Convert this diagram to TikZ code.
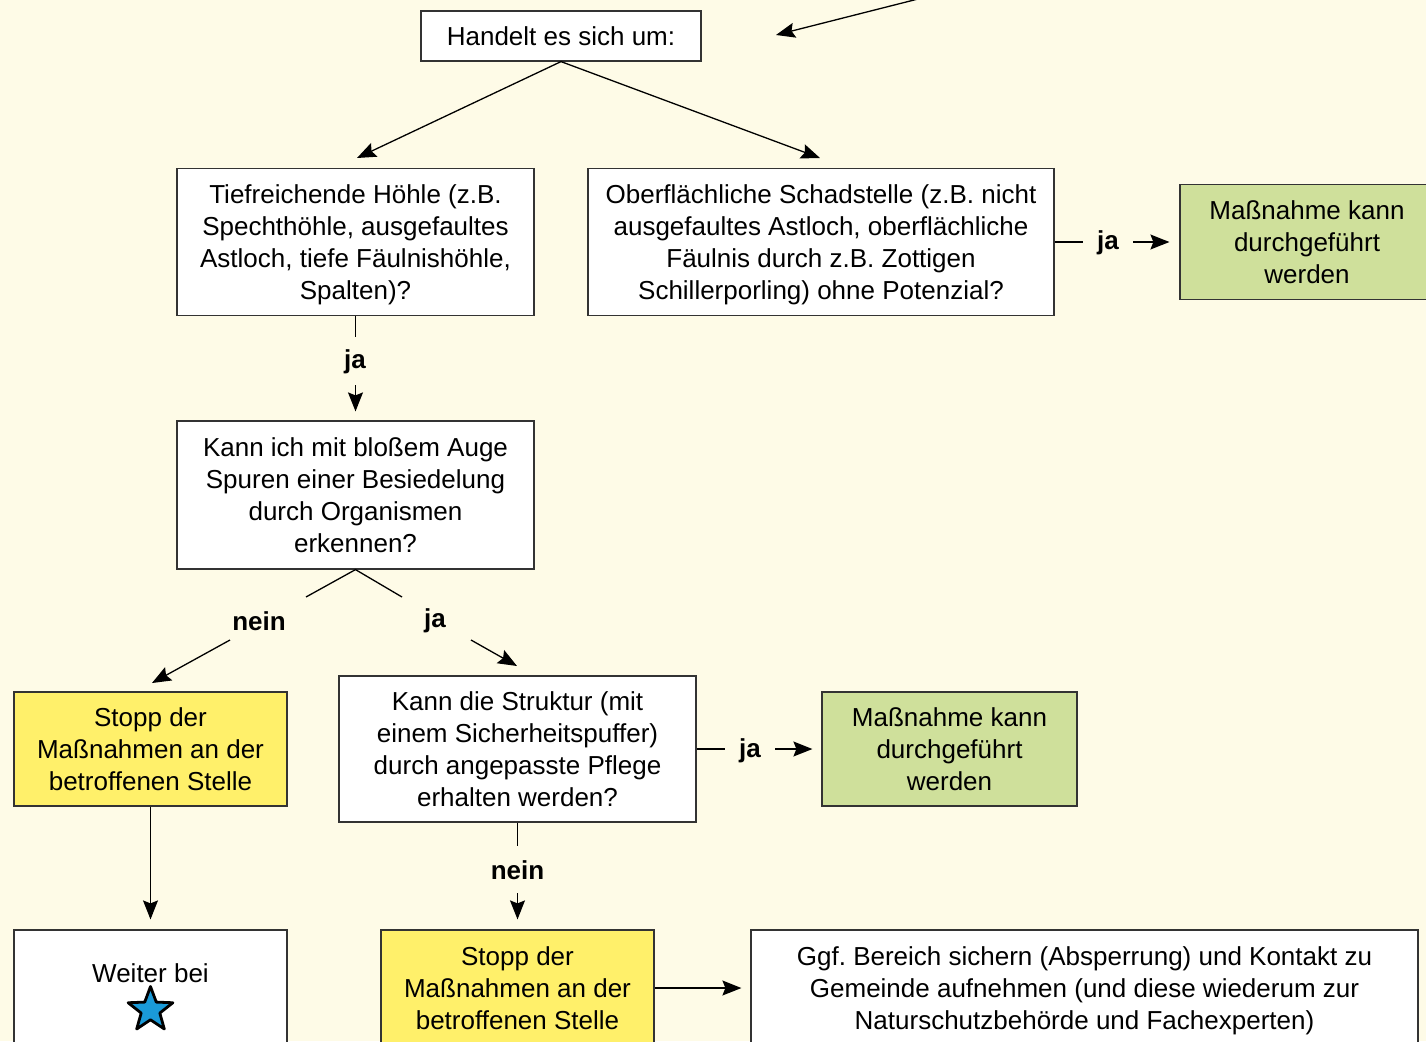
\documentclass[tikz,border=0pt]{standalone}
\usepackage{fontspec}
\setmainfont{Liberation Sans}
\usetikzlibrary{arrows.meta,shapes.geometric,calc}
\frenchspacing
\definecolor{bgc}{HTML}{FEFBE7}
\definecolor{bordc}{HTML}{333333}
\definecolor{yelc}{HTML}{FFF06A}
\definecolor{grnc}{HTML}{CFE09B}
\definecolor{starc}{HTML}{1A9AD8}
\newcommand{\fsz}{\fontsize{26}{32}\selectfont}
\tikzset{
  box/.style={draw=bordc, line width=1.2pt, fill=white, align=center, inner sep=0pt, font=\fsz, text depth=0pt},
  ybox/.style={box, fill=yelc},
  gbox/.style={box, fill=grnc},
  lbl/.style={inner sep=0pt, font=\fsz\bfseries},
  conn/.style={line width=1.3pt, black},
  arr/.style={conn, -{Stealth[length=19pt,width=15pt,inset=3pt]}}
}
\begin{document}
\begin{tikzpicture}[x=1pt,y=-1pt]
\fill[bgc] (0,0) rectangle (1426,1041);
\useasboundingbox (0,0) rectangle (1426,1041);
\clip (0,0) rectangle (1426,1041);

% boxes
\node[box, minimum width=280pt, minimum height=50pt] (handelt) at (561,36) {Handelt es sich um:};
\node[box, minimum width=357pt, minimum height=147pt] (tief) at (355.5,242)
  {Tiefreichende Höhle (z.B.\\Spechthöhle, ausgefaultes\\Astloch, tiefe Fäulnishöhle,\\Spalten)?};
\node[box, minimum width=466pt, minimum height=147pt] (ober) at (821,242)
  {Oberflächliche Schadstelle (z.B. nicht\\ausgefaultes Astloch, oberflächliche\\Fäulnis durch z.B. Zottigen\\Schillerporling) ohne Potenzial?};
\node[gbox, minimum width=254pt, minimum height=115pt] (green1) at (1307,242)
  {Maßnahme kann\\durchgeführt\\werden};
\node[box, minimum width=357pt, minimum height=148pt] (kann) at (355.5,495)
  {Kann ich mit bloßem Auge\\Spuren einer Besiedelung\\durch Organismen\\erkennen?};
\node[ybox, minimum width=273pt, minimum height=114pt] (stopp1) at (150.5,749)
  {Stopp der\\Maßnahmen an der\\betroffenen Stelle};
\node[box, minimum width=357pt, minimum height=146pt] (struct) at (517.5,749)
  {Kann die Struktur (mit\\einem Sicherheitspuffer)\\durch angepasste Pflege\\erhalten werden?};
\node[gbox, minimum width=255pt, minimum height=114pt] (green2) at (949.5,749)
  {Maßnahme kann\\durchgeführt\\werden};
\node[box, minimum width=273pt, minimum height=116pt] (weiter) at (150.5,988) {};
\node[inner sep=0pt, font=\fsz] (weitertxt) at (150.5,973) {Weiter bei};
\node[star, star points=5, star point ratio=2.4, minimum size=47pt, inner sep=0pt,
      draw=black, line width=2.8pt, line join=round, fill=starc] (stern) at (150.5,1010) {};
\node[ybox, minimum width=273pt, minimum height=116pt] (stopp2) at (517.5,988)
  {Stopp der\\Maßnahmen an der\\betroffenen Stelle};
\node[box, minimum width=667pt, minimum height=116pt] (ggf) at (1084.5,988)
  {Ggf. Bereich sichern (Absperrung) und Kontakt zu\\Gemeinde aufnehmen (und diese wiederum zur\\Naturschutzbehörde und Fachexperten)};

% labels
\node[lbl, minimum height=47pt] (ja1) at (355,362) {ja};
\node[lbl, minimum width=50pt] (ja2) at (1108,243) {ja};
\node[lbl] (nein1) at (259,621) {nein};
\node[lbl] (ja4) at (435,621) {ja};
\node[lbl, minimum width=50pt] (ja3) at (750,751) {ja};
\node[lbl, minimum height=47pt] (nein2) at (517.5,870) {nein};

% free coordinates
\coordinate (topstart) at (918,-1);
\coordinate (topend) at (776,35);
\coordinate (tiefin) at (357,158);
\coordinate (oberin) at (820,158);
\coordinate (splitl) at (306,597);
\coordinate (splitr) at (402,597);
\coordinate (neinout) at (230,640);
\coordinate (stopp1in) at (152,683);
\coordinate (jaout) at (471,640);
\coordinate (structin) at (517,666);

% connectors
\draw[arr] (topstart) -- (topend);
\draw[arr] (handelt.south) -- (tiefin);
\draw[arr] (handelt.south) -- (oberin);
\draw[conn] (tief.south) -- (355.5,337);
\draw[arr, shorten >=9pt] (355.5,385) -- (kann.north);
\draw[conn] (ober.east) -- (1083,242);
\draw[arr, shorten >=10pt] (1133,242) -- (green1.west);
\draw[conn] (splitl) -- (kann.south) -- (splitr);
\draw[arr] (neinout) -- (stopp1in);
\draw[arr] (jaout) -- (structin);
\draw[conn] (struct.east) -- (725,749);
\draw[arr, shorten >=9pt] (775,749) -- (green2.west);
\draw[conn] (struct.south) -- (517.5,846);
\draw[arr, shorten >=10pt] (517.5,893) -- (stopp2.north);
\draw[arr, shorten >=10pt] (stopp1.south) -- (weiter.north);
\draw[arr, shorten >=9pt] (stopp2.east) -- (ggf.west);
\end{tikzpicture}
\end{document}
